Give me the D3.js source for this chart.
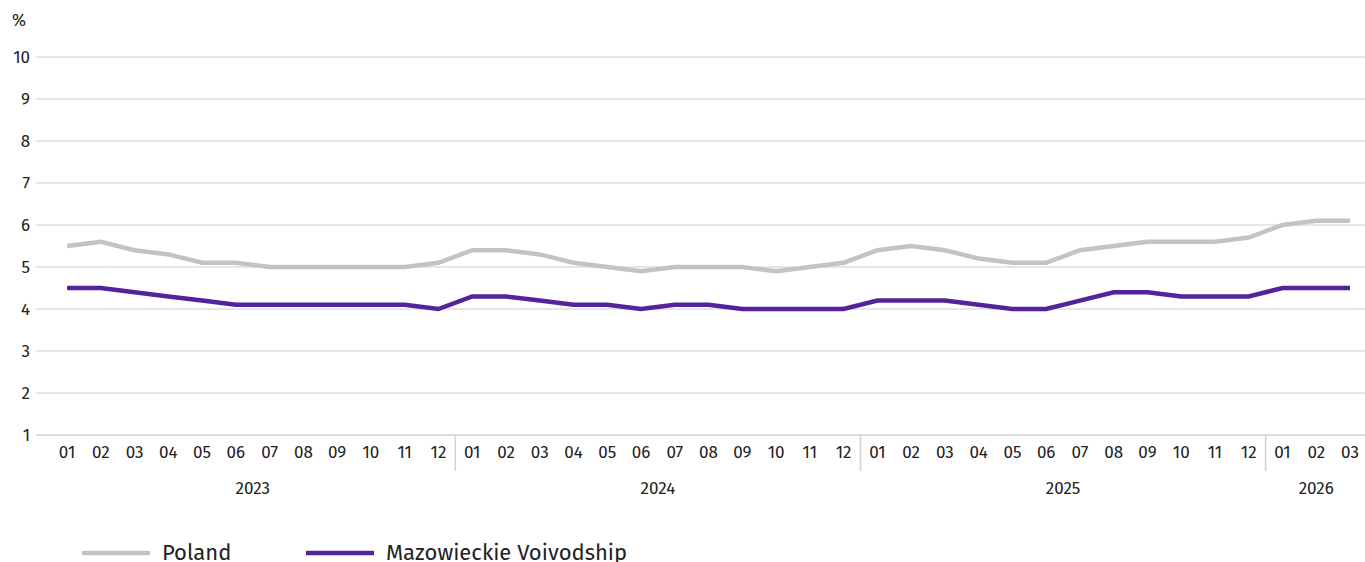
<!DOCTYPE html>
<html>
<head>
<meta charset="utf-8">
<script src="https://cdn.jsdelivr.net/npm/d3@7"></script>
<style>
  html, body { margin: 0; padding: 0; background: #fff; }
  svg text { font-family: "Fira Sans", "Noto Sans", "Open Sans", sans-serif; fill: #222; }
</style>
</head>
<body>
<svg id="chart" width="1365" height="562"></svg>
<script>
// Registered unemployment rate, monthly, %
const years = ["2023", "2024", "2025", "2026"];
const monthsPerYear = [12, 12, 12, 3];
const monthLabels = ["01","02","03","04","05","06","07","08","09","10","11","12"];

const poland = [
  5.5, 5.6, 5.4, 5.3, 5.1, 5.1, 5.0, 5.0, 5.0, 5.0, 5.0, 5.1,
  5.4, 5.4, 5.3, 5.1, 5.0, 4.9, 5.0, 5.0, 5.0, 4.9, 5.0, 5.1,
  5.4, 5.5, 5.4, 5.2, 5.1, 5.1, 5.4, 5.5, 5.6, 5.6, 5.6, 5.7,
  6.0, 6.1, 6.1
];
const mazowieckie = [
  4.5, 4.5, 4.4, 4.3, 4.2, 4.1, 4.1, 4.1, 4.1, 4.1, 4.1, 4.0,
  4.3, 4.3, 4.2, 4.1, 4.1, 4.0, 4.1, 4.1, 4.0, 4.0, 4.0, 4.0,
  4.2, 4.2, 4.2, 4.1, 4.0, 4.0, 4.2, 4.4, 4.4, 4.3, 4.3, 4.3,
  4.5, 4.5, 4.5
];
const yTicks = [1, 2, 3, 4, 5, 6, 7, 8, 9, 10];
const seriesNames = ["Poland", "Mazowieckie Voivodship"];
const seriesColors = ["#c3c3c3", "#52239b"];

// category keys "YYYY-MM"
const periods = [];
years.forEach((y, i) => {
  for (let m = 0; m < monthsPerYear[i]; m++) periods.push({ key: y + "-" + monthLabels[m], year: y, month: monthLabels[m] });
});

const svg = d3.select("#chart");
const gridLeft = 36, gridRight = 1365;

const x = d3.scaleBand()
  .domain(periods.map(p => p.key))
  .range([50.2, 1366.9]);
const xc = k => x(k) + x.bandwidth() / 2;

const y = d3.scaleLinear().domain([1, 10]).range([435, 57]);

// horizontal gridlines
svg.append("g").selectAll("line")
  .data(yTicks)
  .join("line")
  .attr("x1", gridLeft).attr("x2", gridRight)
  .attr("y1", d => y(d)).attr("y2", d => y(d))
  .attr("stroke", d => d === 1 ? "#d2d2d2" : "#dedede")
  .attr("stroke-width", 1.5);

// y tick labels
svg.append("g").selectAll("text")
  .data(yTicks)
  .join("text")
  .attr("x", 30).attr("y", d => y(d))
  .attr("dy", "0.35em")
  .attr("text-anchor", "end")
  .attr("font-size", 17)
  .text(d => d);

svg.append("text")
  .attr("x", 12).attr("y", 26)
  .attr("font-size", 17)
  .text("%");

// month labels
svg.append("g").selectAll("text")
  .data(periods)
  .join("text")
  .attr("x", d => xc(d.key)).attr("y", 458)
  .attr("text-anchor", "middle")
  .attr("font-size", 17)
  .text(d => d.month);

// year separators and year labels
let start = 0;
years.forEach((yr, i) => {
  const first = periods[start].key;
  const last = periods[start + monthsPerYear[i] - 1].key;
  if (i > 0) {
    svg.append("line")
      .attr("x1", x(first)).attr("x2", x(first))
      .attr("y1", 435).attr("y2", 471)
      .attr("stroke", "#d2d2d2").attr("stroke-width", 1.5);
  }
  svg.append("text")
    .attr("x", (xc(first) + xc(last)) / 2).attr("y", 494)
    .attr("text-anchor", "middle")
    .attr("font-size", 17)
    .text(yr);
  start += monthsPerYear[i];
});

// series lines
const line = d3.line()
  .x((d, i) => xc(periods[i].key))
  .y(d => y(d));

[poland, mazowieckie].forEach((vals, i) => {
  svg.append("path")
    .datum(vals)
    .attr("d", line)
    .attr("fill", "none")
    .attr("stroke", seriesColors[i])
    .attr("stroke-width", 4.5)
    .attr("stroke-linejoin", "miter");
});

// legend
const legendX = [82, 306];
seriesNames.forEach((name, i) => {
  svg.append("line")
    .attr("x1", legendX[i]).attr("x2", legendX[i] + 68)
    .attr("y1", 553).attr("y2", 553)
    .attr("stroke", seriesColors[i]).attr("stroke-width", 4.5);
  svg.append("text")
    .attr("x", legendX[i] + 80).attr("y", 560)
    .attr("font-size", 22)
    .text(name);
});
</script>
</body>
</html>
